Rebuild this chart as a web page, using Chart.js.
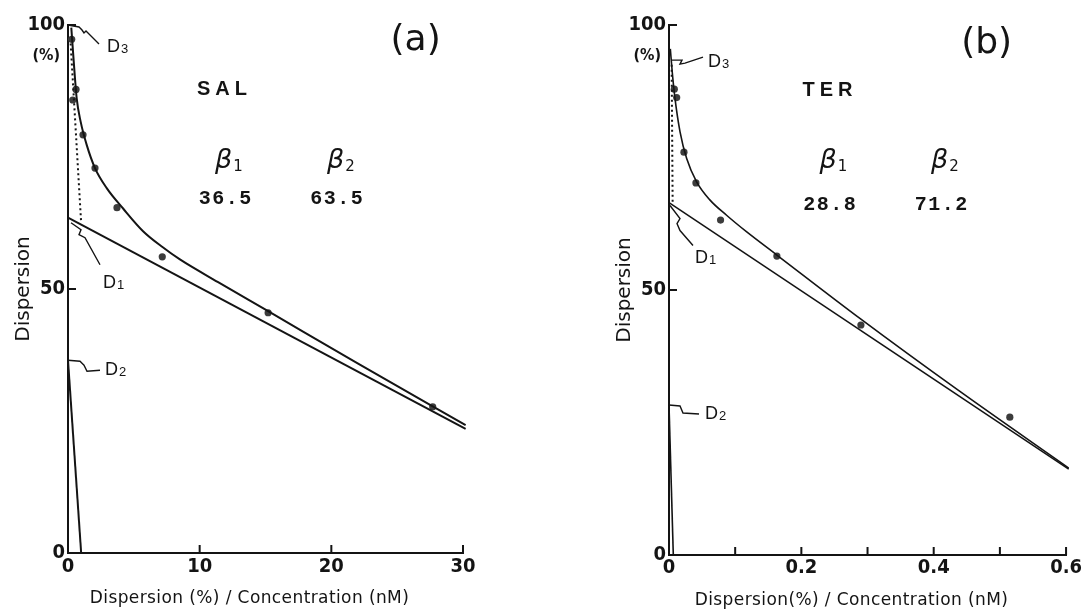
<!DOCTYPE html>
<html lang="en">
<head>
<meta charset="UTF-8">
<title>Dispersion plots (a) SAL, (b) TER</title>
<script src="https://cdn.jsdelivr.net/npm/chart.js"></script>
<style>
  body { margin: 0; background: #fff; }
  .panel { position: absolute; top: 0; height: 610px; }
</style>
</head>
<body>
<div class="panel" style="left:0;width:540px"><canvas id="chartA" width="540" height="610"></canvas></div>
<div class="panel" style="left:541px;width:542px"><canvas id="chartB" width="542" height="610"></canvas></div>

<script>
// ---------- (a) SAL : values ----------
const salPointX = [0.28, 0.36, 0.61, 1.14, 2.05, 3.72, 7.16, 15.2, 27.7];
const salPointY = [97.3, 85.8, 87.8, 79.2, 72.9, 65.4, 56.1, 45.5, 27.7];
const salCurveX = [0.25, 0.4, 0.66, 0.96, 1.42, 2.05, 2.94, 4.2, 5.7, 7.2, 8.5, 11.4, 15.2, 22, 30.2];
const salCurveY = [99.5, 94.3, 86.1, 81.7, 77.3, 72.9, 69.1, 65.2, 60.95, 57.9, 55.6, 51.3, 45.8, 35.9, 24.2];
const salD1X = [0, 30.2];
const salD1Y = [63.5, 23.5];
const salD2X = [0, 1.0];
const salD2Y = [36.5, 0];
const salDotX = [0.2, 1.0];
const salDotY = [96.5, 62.5];
const salXTicks = [0, 10, 20, 30];
const salXLabels = ['0', '10', '20', '30'];

// ---------- (b) TER ----------
const terPointX = [0.008, 0.0116, 0.0226, 0.0407, 0.0779, 0.163, 0.29, 0.515];
const terPointY = [87.9, 86.3, 76.0, 70.2, 63.2, 56.4, 43.4, 26.0];
const terCurveX = [0.002, 0.005, 0.009, 0.0166, 0.0267, 0.0417, 0.0617, 0.087, 0.117, 0.163, 0.29, 0.438, 0.604];
const terCurveY = [95.5, 91.0, 86.2, 79.9, 74.8, 70.4, 67.0, 64.1, 61.0, 56.6, 44.5, 31.0, 16.4];
const terD1X = [0, 0.604];
const terD1Y = [66.5, 16.2];
const terD2X = [0, 0.0065];
const terD2Y = [28.3, 0];
const terDotX = [0.004, 0.0055];
const terDotY = [92.5, 66.4];
const terXTicks = [0, 0.1, 0.2, 0.3, 0.4, 0.5, 0.6];
const terXLabels = ['0', '', '0.2', '', '0.4', '', '0.6'];

const yTicks = [0, 50, 100];
const yLabels = ['0', '50', '100'];

const INK = '#141414';
const TICK_FONT = { family: "'DejaVu Sans Condensed', 'Liberation Sans Narrow', sans-serif", size: 20, weight: 'bold' };
const TITLE_FAMILY = "'DejaVu Sans', sans-serif";

const xy = (xs, ys) => xs.map((x, i) => ({ x: x, y: ys[i] }));

// panel texts; positions in data units, leader paths in pixel offsets from the anchor
const PANELS = {
  chartA: {
    xTitle: 'Dispersion (%) / Concentration (nM)',
    letter: { text: '(a)', at: [26.4, 97.1] },
    drug: { text: 'SAL', at: [9.8, 87.7] },
    betas: [[11.16, 72.9, '1'], [19.67, 72.9, '2']],
    values: [[11.92, 67.0, '36.5'], [20.39, 67.0, '63.5']],
    marks: [
      { sub: '3', at: [0, 100], path: [[0, 0], [11, 2], [14, 5], [16, 8], [18, 6], [31, 19]], label: [39, 21] },
      { sub: '1', at: [0, 63.5], path: [[3, 5], [13, 12], [11, 17], [17, 20], [32, 47]], label: [35, 64] },
      { sub: '2', at: [0, 36.5], path: [[0, 0], [12, 1], [16, 5], [19, 11], [32, 10]], label: [37, 9] }
    ]
  },
  chartB: {
    xTitle: 'Dispersion(%) / Concentration (nM)',
    letter: { text: '(b)', at: [0.480, 96.5] },
    drug: { text: 'TER', at: [0.2018, 87.7] },
    betas: [[0.2274, 73.0, '1'], [0.396, 73.0, '2']],
    values: [[0.2425, 66.1, '28.8'], [0.411, 66.1, '71.2']],
    marks: [
      { sub: '3', at: [0, 93], path: [[2, -2], [13, -2], [11, 2], [16, 1], [34, -5]], label: [39, -1] },
      { sub: '1', at: [0, 66.5], path: [[1, 3], [11, 16], [8, 21], [11, 28], [24, 43]], label: [26, 54] },
      { sub: '2', at: [0, 28.3], path: [[0, 0], [11, 1], [14, 8], [30, 9]], label: [36, 8] }
    ]
  }
};

// text with a small subscript on the same baseline
function subText(ctx, main, sub, x, base, mainFont, subFont, subDrop) {
  ctx.font = mainFont;
  ctx.fillText(main, x, base);
  const w = ctx.measureText(main).width;
  ctx.font = subFont;
  ctx.fillText(sub, x + w + 1, base + subDrop);
}

const panelDecor = {
  id: 'panelDecor',
  afterDraw(chart) {
    const p = PANELS[chart.canvas.id];
    const { ctx, chartArea: a } = chart;
    const sx = chart.scales.x, sy = chart.scales.y;
    const px = v => sx.getPixelForValue(v), py = v => sy.getPixelForValue(v);
    ctx.save();
    ctx.strokeStyle = INK;
    ctx.fillStyle = INK;

    // tick marks point into the plot
    ctx.lineWidth = 2;
    ctx.beginPath();
    sx.ticks.forEach(t => { if (t.value > 0) { ctx.moveTo(px(t.value), a.bottom); ctx.lineTo(px(t.value), a.bottom - 8); } });
    sy.ticks.forEach(t => { if (t.value > 0) { ctx.moveTo(a.left, py(t.value)); ctx.lineTo(a.left + 8, py(t.value)); } });
    ctx.stroke();

    // "(%)" under the 100 label
    ctx.font = 'bold 16px ' + TICK_FONT.family;
    ctx.textAlign = 'right';
    ctx.textBaseline = 'middle';
    ctx.fillText('(%)', a.left - 8, py(100) + 31);

    // leaders and D labels
    ctx.lineWidth = 1.4;
    ctx.textAlign = 'left';
    ctx.textBaseline = 'alphabetic';
    p.marks.forEach(m => {
      const ox = px(m.at[0]), oy = py(m.at[1]);
      ctx.beginPath();
      m.path.forEach(([dx, dy], i) => i ? ctx.lineTo(ox + dx, oy + dy) : ctx.moveTo(ox + dx, oy + dy));
      ctx.stroke();
      subText(ctx, 'D', m.sub, ox + m.label[0], oy + m.label[1] + 6,
        "18px 'Liberation Sans', sans-serif", "13px 'Liberation Sans', sans-serif", 1);
    });

    // panel letter
    ctx.font = "36px " + TITLE_FAMILY;
    ctx.textAlign = 'center';
    ctx.textBaseline = 'middle';
    ctx.fillText(p.letter.text, px(p.letter.at[0]), py(p.letter.at[1]));

    // drug name
    ctx.font = "bold 20px 'Liberation Sans', sans-serif";
    ctx.letterSpacing = '5px';
    ctx.textAlign = 'left';
    ctx.fillText(p.drug.text, px(p.drug.at[0]), py(p.drug.at[1]));

    // beta headings and values
    ctx.letterSpacing = '0px';
    ctx.textBaseline = 'alphabetic';
    p.betas.forEach(([bx, by, s]) => {
      subText(ctx, 'β', s, px(bx), py(by), "italic 27px " + TITLE_FAMILY, "15px " + TITLE_FAMILY, 3);
    });
    ctx.font = "bold 20px 'Liberation Mono', monospace";
    ctx.letterSpacing = '1.5px';
    ctx.textAlign = 'center';
    ctx.textBaseline = 'middle';
    p.values.forEach(([vx, vy, s]) => ctx.fillText(s, px(vx) + 0.75, py(vy)));

    // x axis title
    ctx.font = "17px " + TITLE_FAMILY;
    ctx.letterSpacing = '0.4px';
    ctx.fillText(p.xTitle, (a.left + a.right) / 2 - 16, a.bottom + 46);
    ctx.restore();
  }
};

function makePanel(id, d) {
  const line = (data, extra) => Object.assign({
    data: data, showLine: true, borderColor: INK, borderWidth: d.lw,
    pointRadius: 0, fill: false, clip: false
  }, extra || {});
  return new Chart(document.getElementById(id), {
    type: 'scatter',
    data: {
      datasets: [
        line(xy(d.d1x, d.d1y)),
        line(xy(d.d2x, d.d2y)),
        line(xy(d.dotX, d.dotY), { borderDash: [2, 3], borderWidth: 2 }),
        line(xy(d.curveX, d.curveY), { cubicInterpolationMode: 'monotone' }),
        { data: xy(d.ptX, d.ptY), showLine: false, pointRadius: 3.6, pointBackgroundColor: '#3c3c3c', pointBorderWidth: 0, clip: false }
      ]
    },
    options: {
      responsive: false,
      animation: false,
      layout: { padding: d.pad },
      plugins: { legend: { display: false }, tooltip: { enabled: false } },
      scales: {
        x: {
          type: 'linear', min: 0, max: d.xMax,
          afterBuildTicks: s => { s.ticks = d.xTicks.map(v => ({ value: v })); },
          afterFit: s => { s.height = d.xHeight; },
          ticks: { callback: (v, i) => d.xLabels[i], font: TICK_FONT, color: INK, padding: d.xPad, maxRotation: 0, autoSkip: false },
          grid: { display: false, drawTicks: false },
          border: { color: INK, width: 2 }
        },
        y: {
          type: 'linear', min: 0, max: 100,
          afterBuildTicks: s => { s.ticks = yTicks.map(v => ({ value: v })); },
          afterFit: s => { s.width = 68; },
          ticks: { callback: (v, i) => yLabels[i], font: TICK_FONT, color: INK, padding: 3, autoSkip: false },
          grid: { display: false, drawTicks: false },
          border: { color: INK, width: 2 },
          title: { display: true, text: 'Dispersion', color: INK, font: { family: TITLE_FAMILY, size: 20 }, padding: { top: 12, bottom: 0 } }
        }
      }
    },
    plugins: [panelDecor]
  });
}

makePanel('chartA', {
  ptX: salPointX, ptY: salPointY, curveX: salCurveX, curveY: salCurveY,
  d1x: salD1X, d1y: salD1Y, d2x: salD2X, d2y: salD2Y, dotX: salDotX, dotY: salDotY,
  xTicks: salXTicks, xLabels: salXLabels, xMax: 30, lw: 2,
  pad: { left: 0, top: 25, right: 77, bottom: 0 }, xHeight: 57, xPad: 2
});

makePanel('chartB', {
  ptX: terPointX, ptY: terPointY, curveX: terCurveX, curveY: terCurveY,
  d1x: terD1X, d1y: terD1Y, d2x: terD2X, d2y: terD2Y, dotX: terDotX, dotY: terDotY,
  xTicks: terXTicks, xLabels: terXLabels, xMax: 0.6, lw: 1.6,
  pad: { left: 60, top: 25, right: 15, bottom: 0 }, xHeight: 55, xPad: 1
});
</script>
</body>
</html>
